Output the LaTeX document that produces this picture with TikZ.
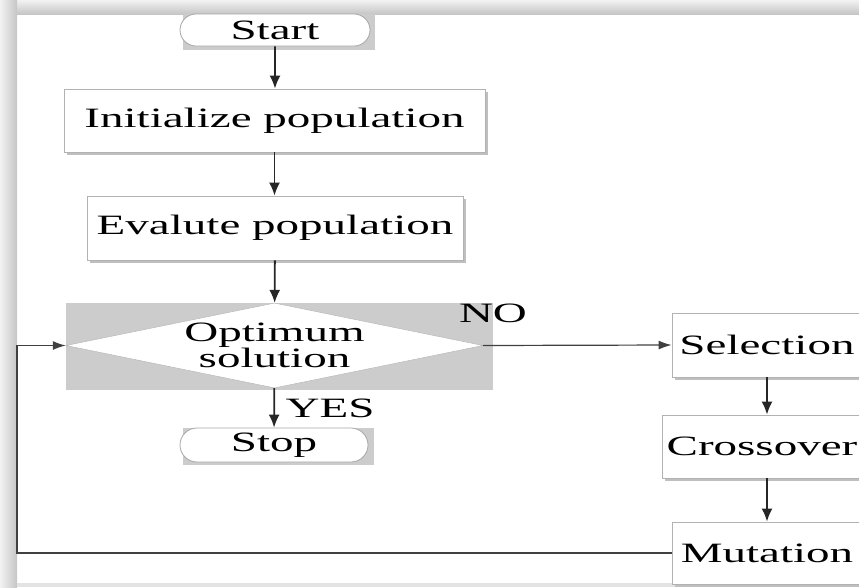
\documentclass[tikz,border=0pt]{standalone}
\usepackage{fontspec}
\setmainfont{Liberation Serif}
\usepackage{graphicx}
\usetikzlibrary{
  positioning,
  shapes.misc,
  shapes.geometric,
  shadows,
  arrows.meta
}

\newcommand{\wtext}[1]{\scalebox{1.68}[1]{#1}}

\tikzset{
  stepbox/.style={rectangle, draw=gray!60, line width=0.8pt, fill=white, inner sep=0pt,
    drop shadow={shadow xshift=2.5pt, shadow yshift=-2.5pt, fill=gray!50, opacity=1}},
  termbox/.style={rounded rectangle, draw=gray!70, line width=0.8pt, fill=white, inner sep=0pt},
  backing/.style={fill=gray!40},
  flow/.style={draw=black!85, line width=1.8pt, -{Latex[length=13pt,width=11pt]}},
  link/.style={draw=black!75, line width=1.2pt, -{Latex[length=13pt,width=9pt]}}
}

\begin{document}
\begin{tikzpicture}[x=1pt, y=-1pt, font=\fontsize{28}{25}\selectfont]
  \useasboundingbox (0,0) rectangle (859,587);
  % frame
  \shade[top color=gray!10, bottom color=gray!45] (0,0) rectangle (859,14);
  \shade[left color=gray!10, right color=gray!45] (0,0) rectangle (17,587);
  \fill[gray!22] (17,583) rectangle (859,587);

  % left column
  \fill[backing] (183,14) rectangle (375,50);
  \node[termbox, minimum width=190pt, minimum height=32pt] (start) at (275,30) {\wtext{Start}};
  \node[stepbox, minimum width=421pt, minimum height=63pt] (init) at (274.5,120.5) {\wtext{Initialize population}};
  \node[stepbox, minimum width=376pt, minimum height=64pt] (eval) at (275,228) {\wtext{Evalute population}};
  \fill[backing] (66,303) rectangle (493,390);
  \node[diamond, draw=gray!60, fill=white, minimum width=417pt, minimum height=85pt, inner sep=0pt] (opt) at (274.5,345.5) {};
  \node[align=center] (optlabel) at (opt) {\wtext{Optimum}\\\wtext{solution}};
  \node (no) at (493,313) {\wtext{NO}};
  \node (yes) at (330,408) {\wtext{YES}};
  \fill[backing] (183,428) rectangle (374,465);
  \node[termbox, minimum width=188pt, minimum height=34pt] (stop) at (274,445) {\wtext{Stop}};

  % right column
  \node[stepbox, minimum width=190pt, minimum height=64pt] (sel) at (767,345) {\wtext{Selection}};
  \node[stepbox, minimum width=200pt, minimum height=63pt] (cross) at (762,446.5) {\wtext{Crossover}};
  \node[stepbox, minimum width=190pt, minimum height=62pt] (mut) at (767,553) {\wtext{Mutation}};
  \coordinate (loop) at (17,553);

  % connectors
  \draw[flow] (start) -- (start |- init.north);
  \draw[flow] (init) -- (init |- eval.north);
  \draw[flow] (eval) -- (opt);
  \draw[flow] (opt) -- (stop);
  \draw[link] (opt.east) -- (sel.west);
  \draw[flow] (sel) -- (sel |- cross.north);
  \draw[flow] (cross.south -| sel) -- (mut);
  \draw[link] (mut.west) -- (loop) |- (opt.west);
\end{tikzpicture}
\end{document}
